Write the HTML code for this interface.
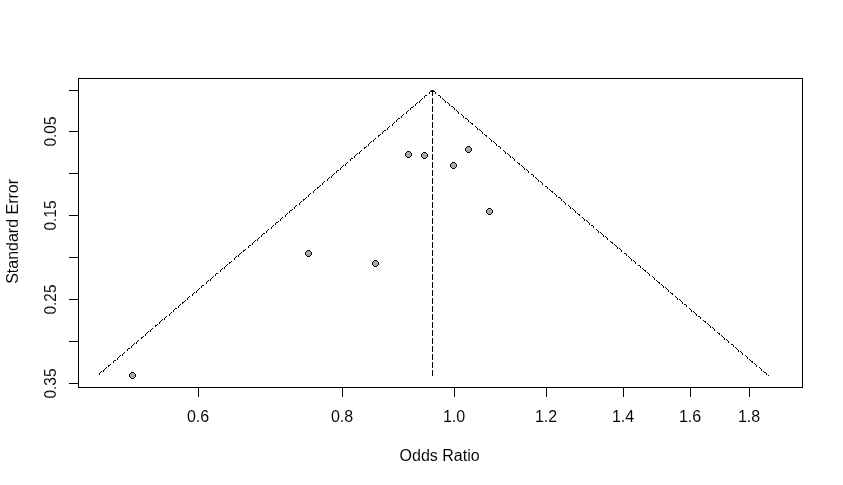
<!DOCTYPE html>
<html><head><meta charset="utf-8"><style>
html,body{margin:0;padding:0;background:#fff;}
svg{display:block;filter:grayscale(1);}
</style></head><body>
<svg width="843" height="485" viewBox="0 0 843 485">
<rect width="843" height="485" fill="#fff"/>
<g shape-rendering="crispEdges">
<path d="M431 90h1v1h-1zM430 91h1v1h-1zM429 92h1v1h-1zM429 93h1v1h-1zM426 95h1v1h-1zM425 95h1v1h-1zM424 96h1v1h-1zM424 97h1v1h-1zM422 98h1v1h-1zM421 99h1v1h-1zM420 100h1v1h-1zM419 101h1v1h-1zM419 102h1v1h-1zM417 102h1v1h-1zM416 103h1v1h-1zM415 104h1v1h-1zM415 105h1v1h-1zM413 106h1v1h-1zM412 107h1v1h-1zM411 107h1v1h-1zM410 108h1v1h-1zM410 109h1v1h-1zM408 110h1v1h-1zM407 111h1v1h-1zM406 112h1v1h-1zM406 113h1v1h-1zM403 114h1v1h-1zM402 115h1v1h-1zM401 116h1v1h-1zM401 117h1v1h-1zM399 118h1v1h-1zM398 118h1v1h-1zM397 119h1v1h-1zM396 120h1v1h-1zM396 121h1v1h-1zM394 122h1v1h-1zM393 123h1v1h-1zM392 124h1v1h-1zM392 125h1v1h-1zM389 126h1v1h-1zM388 127h1v1h-1zM387 128h1v1h-1zM387 129h1v1h-1zM385 130h1v1h-1zM384 130h1v1h-1zM383 131h1v1h-1zM382 132h1v1h-1zM382 133h1v1h-1zM380 134h1v1h-1zM379 135h1v1h-1zM378 135h1v1h-1zM378 136h1v1h-1zM375 138h1v1h-1zM374 139h1v1h-1zM373 140h1v1h-1zM373 141h1v1h-1zM371 141h1v1h-1zM370 142h1v1h-1zM369 143h1v1h-1zM368 144h1v1h-1zM368 145h1v1h-1zM366 146h1v1h-1zM365 147h1v1h-1zM364 147h1v1h-1zM364 148h1v1h-1zM361 150h1v1h-1zM360 151h1v1h-1zM359 152h1v1h-1zM359 153h1v1h-1zM357 153h1v1h-1zM356 154h1v1h-1zM355 155h1v1h-1zM354 156h1v1h-1zM354 157h1v1h-1zM352 158h1v1h-1zM351 158h1v1h-1zM350 159h1v1h-1zM350 160h1v1h-1zM347 162h1v1h-1zM346 163h1v1h-1zM345 164h1v1h-1zM345 165h1v1h-1zM343 165h1v1h-1zM342 166h1v1h-1zM341 167h1v1h-1zM340 168h1v1h-1zM340 169h1v1h-1zM338 170h1v1h-1zM337 170h1v1h-1zM336 171h1v1h-1zM336 172h1v1h-1zM334 173h1v1h-1zM333 174h1v1h-1zM332 175h1v1h-1zM331 176h1v1h-1zM331 177h1v1h-1zM329 177h1v1h-1zM328 178h1v1h-1zM327 179h1v1h-1zM327 180h1v1h-1zM324 181h1v1h-1zM323 182h1v1h-1zM322 183h1v1h-1zM322 184h1v1h-1zM320 185h1v1h-1zM319 186h1v1h-1zM318 187h1v1h-1zM317 187h1v1h-1zM317 188h1v1h-1zM315 189h1v1h-1zM314 190h1v1h-1zM313 191h1v1h-1zM313 192h1v1h-1zM310 193h1v1h-1zM309 194h1v1h-1zM308 195h1v1h-1zM308 196h1v1h-1zM306 197h1v1h-1zM305 198h1v1h-1zM304 199h1v1h-1zM303 199h1v1h-1zM303 200h1v1h-1zM301 201h1v1h-1zM300 202h1v1h-1zM299 203h1v1h-1zM299 204h1v1h-1zM296 205h1v1h-1zM295 206h1v1h-1zM294 207h1v1h-1zM294 208h1v1h-1zM292 209h1v1h-1zM291 210h1v1h-1zM290 210h1v1h-1zM289 211h1v1h-1zM289 212h1v1h-1zM287 213h1v1h-1zM286 214h1v1h-1zM285 215h1v1h-1zM285 216h1v1h-1zM282 217h1v1h-1zM281 218h1v1h-1zM280 219h1v1h-1zM280 220h1v1h-1zM278 221h1v1h-1zM277 222h1v1h-1zM276 222h1v1h-1zM275 223h1v1h-1zM275 224h1v1h-1zM273 225h1v1h-1zM272 226h1v1h-1zM271 227h1v1h-1zM271 228h1v1h-1zM268 229h1v1h-1zM267 230h1v1h-1zM266 231h1v1h-1zM266 232h1v1h-1zM264 233h1v1h-1zM263 233h1v1h-1zM262 234h1v1h-1zM261 235h1v1h-1zM261 236h1v1h-1zM259 237h1v1h-1zM258 238h1v1h-1zM257 239h1v1h-1zM257 240h1v1h-1zM255 240h1v1h-1zM254 241h1v1h-1zM253 242h1v1h-1zM252 243h1v1h-1zM252 244h1v1h-1zM250 245h1v1h-1zM249 245h1v1h-1zM248 246h1v1h-1zM248 247h1v1h-1zM245 249h1v1h-1zM244 250h1v1h-1zM243 250h1v1h-1zM243 251h1v1h-1zM241 252h1v1h-1zM240 253h1v1h-1zM239 254h1v1h-1zM238 255h1v1h-1zM238 256h1v1h-1zM236 256h1v1h-1zM235 257h1v1h-1zM234 258h1v1h-1zM234 259h1v1h-1zM231 261h1v1h-1zM230 262h1v1h-1zM229 262h1v1h-1zM229 263h1v1h-1zM227 264h1v1h-1zM226 265h1v1h-1zM225 266h1v1h-1zM224 267h1v1h-1zM224 268h1v1h-1zM222 268h1v1h-1zM221 269h1v1h-1zM220 270h1v1h-1zM220 271h1v1h-1zM217 273h1v1h-1zM216 273h1v1h-1zM215 274h1v1h-1zM215 275h1v1h-1zM213 276h1v1h-1zM212 277h1v1h-1zM211 278h1v1h-1zM210 279h1v1h-1zM210 280h1v1h-1zM208 280h1v1h-1zM207 281h1v1h-1zM206 282h1v1h-1zM206 283h1v1h-1zM203 285h1v1h-1zM202 285h1v1h-1zM201 286h1v1h-1zM201 287h1v1h-1zM199 288h1v1h-1zM198 289h1v1h-1zM197 290h1v1h-1zM196 291h1v1h-1zM196 292h1v1h-1zM194 292h1v1h-1zM193 293h1v1h-1zM192 294h1v1h-1zM192 295h1v1h-1zM189 296h1v1h-1zM188 297h1v1h-1zM187 298h1v1h-1zM187 299h1v1h-1zM185 300h1v1h-1zM184 301h1v1h-1zM183 302h1v1h-1zM182 302h1v1h-1zM182 303h1v1h-1zM180 304h1v1h-1zM179 305h1v1h-1zM178 306h1v1h-1zM178 307h1v1h-1zM176 308h1v1h-1zM175 308h1v1h-1zM174 309h1v1h-1zM173 310h1v1h-1zM173 311h1v1h-1zM171 312h1v1h-1zM170 313h1v1h-1zM169 314h1v1h-1zM169 315h1v1h-1zM166 316h1v1h-1zM165 317h1v1h-1zM164 318h1v1h-1zM164 319h1v1h-1zM162 319h1v1h-1zM161 320h1v1h-1zM160 321h1v1h-1zM159 322h1v1h-1zM159 323h1v1h-1zM157 324h1v1h-1zM156 325h1v1h-1zM155 325h1v1h-1zM155 326h1v1h-1zM152 328h1v1h-1zM151 329h1v1h-1zM150 330h1v1h-1zM150 331h1v1h-1zM148 331h1v1h-1zM147 332h1v1h-1zM146 333h1v1h-1zM145 334h1v1h-1zM145 335h1v1h-1zM143 336h1v1h-1zM142 337h1v1h-1zM141 337h1v1h-1zM141 338h1v1h-1zM138 340h1v1h-1zM137 341h1v1h-1zM136 342h1v1h-1zM136 343h1v1h-1zM134 343h1v1h-1zM133 344h1v1h-1zM132 345h1v1h-1zM131 346h1v1h-1zM131 347h1v1h-1zM129 348h1v1h-1zM128 348h1v1h-1zM127 349h1v1h-1zM127 350h1v1h-1zM124 352h1v1h-1zM123 353h1v1h-1zM122 354h1v1h-1zM122 355h1v1h-1zM120 355h1v1h-1zM119 356h1v1h-1zM118 357h1v1h-1zM117 358h1v1h-1zM117 359h1v1h-1zM115 360h1v1h-1zM114 360h1v1h-1zM113 361h1v1h-1zM113 362h1v1h-1zM110 364h1v1h-1zM109 365h1v1h-1zM108 365h1v1h-1zM108 366h1v1h-1zM106 367h1v1h-1zM105 368h1v1h-1zM104 369h1v1h-1zM103 370h1v1h-1zM103 371h1v1h-1zM101 371h1v1h-1zM100 372h1v1h-1zM99 373h1v1h-1zM99 374h1v1h-1zM433 90h1v1h-1zM434 91h1v1h-1zM435 92h1v1h-1zM435 93h1v1h-1zM438 95h1v1h-1zM439 95h1v1h-1zM440 96h1v1h-1zM440 97h1v1h-1zM442 98h1v1h-1zM443 99h1v1h-1zM444 100h1v1h-1zM445 101h1v1h-1zM445 102h1v1h-1zM447 102h1v1h-1zM448 103h1v1h-1zM449 104h1v1h-1zM449 105h1v1h-1zM451 106h1v1h-1zM452 106h1v1h-1zM453 107h1v1h-1zM454 108h1v1h-1zM454 109h1v1h-1zM456 110h1v1h-1zM457 111h1v1h-1zM458 112h1v1h-1zM458 113h1v1h-1zM461 114h1v1h-1zM462 115h1v1h-1zM463 116h1v1h-1zM463 117h1v1h-1zM465 118h1v1h-1zM466 118h1v1h-1zM467 119h1v1h-1zM468 120h1v1h-1zM468 121h1v1h-1zM470 122h1v1h-1zM471 123h1v1h-1zM472 123h1v1h-1zM472 124h1v1h-1zM475 126h1v1h-1zM476 127h1v1h-1zM477 128h1v1h-1zM477 129h1v1h-1zM479 129h1v1h-1zM480 130h1v1h-1zM481 131h1v1h-1zM482 132h1v1h-1zM482 133h1v1h-1zM484 134h1v1h-1zM485 135h1v1h-1zM486 135h1v1h-1zM486 136h1v1h-1zM489 138h1v1h-1zM490 139h1v1h-1zM491 140h1v1h-1zM491 141h1v1h-1zM493 141h1v1h-1zM494 142h1v1h-1zM495 143h1v1h-1zM496 144h1v1h-1zM496 145h1v1h-1zM498 146h1v1h-1zM499 146h1v1h-1zM500 147h1v1h-1zM500 148h1v1h-1zM503 150h1v1h-1zM504 151h1v1h-1zM505 152h1v1h-1zM505 153h1v1h-1zM507 153h1v1h-1zM508 154h1v1h-1zM509 155h1v1h-1zM510 156h1v1h-1zM510 157h1v1h-1zM512 157h1v1h-1zM513 158h1v1h-1zM514 159h1v1h-1zM514 160h1v1h-1zM517 162h1v1h-1zM518 163h1v1h-1zM519 163h1v1h-1zM519 164h1v1h-1zM521 165h1v1h-1zM522 166h1v1h-1zM523 167h1v1h-1zM524 168h1v1h-1zM524 169h1v1h-1zM526 169h1v1h-1zM527 170h1v1h-1zM528 171h1v1h-1zM528 172h1v1h-1zM531 174h1v1h-1zM532 174h1v1h-1zM533 175h1v1h-1zM533 176h1v1h-1zM535 177h1v1h-1zM536 178h1v1h-1zM537 179h1v1h-1zM538 180h1v1h-1zM538 181h1v1h-1zM540 181h1v1h-1zM541 182h1v1h-1zM542 183h1v1h-1zM542 184h1v1h-1zM545 186h1v1h-1zM546 186h1v1h-1zM547 187h1v1h-1zM547 188h1v1h-1zM549 189h1v1h-1zM550 190h1v1h-1zM551 191h1v1h-1zM552 191h1v1h-1zM552 192h1v1h-1zM554 193h1v1h-1zM555 194h1v1h-1zM556 195h1v1h-1zM556 196h1v1h-1zM558 197h1v1h-1zM559 197h1v1h-1zM560 198h1v1h-1zM561 199h1v1h-1zM561 200h1v1h-1zM563 201h1v1h-1zM564 202h1v1h-1zM565 203h1v1h-1zM565 204h1v1h-1zM568 205h1v1h-1zM569 206h1v1h-1zM570 207h1v1h-1zM570 208h1v1h-1zM572 208h1v1h-1zM573 209h1v1h-1zM574 210h1v1h-1zM575 211h1v1h-1zM575 212h1v1h-1zM577 213h1v1h-1zM578 214h1v1h-1zM579 214h1v1h-1zM579 215h1v1h-1zM582 217h1v1h-1zM583 218h1v1h-1zM584 219h1v1h-1zM584 220h1v1h-1zM586 220h1v1h-1zM587 221h1v1h-1zM588 222h1v1h-1zM589 223h1v1h-1zM589 224h1v1h-1zM591 225h1v1h-1zM592 225h1v1h-1zM593 226h1v1h-1zM593 227h1v1h-1zM596 229h1v1h-1zM597 230h1v1h-1zM598 231h1v1h-1zM598 232h1v1h-1zM600 232h1v1h-1zM601 233h1v1h-1zM602 234h1v1h-1zM603 235h1v1h-1zM603 236h1v1h-1zM605 236h1v1h-1zM606 237h1v1h-1zM607 238h1v1h-1zM607 239h1v1h-1zM610 241h1v1h-1zM611 242h1v1h-1zM612 242h1v1h-1zM612 243h1v1h-1zM614 244h1v1h-1zM615 245h1v1h-1zM616 246h1v1h-1zM617 247h1v1h-1zM617 248h1v1h-1zM619 248h1v1h-1zM620 249h1v1h-1zM621 250h1v1h-1zM621 251h1v1h-1zM624 253h1v1h-1zM625 253h1v1h-1zM626 254h1v1h-1zM626 255h1v1h-1zM628 256h1v1h-1zM629 257h1v1h-1zM630 258h1v1h-1zM631 259h1v1h-1zM631 260h1v1h-1zM633 260h1v1h-1zM634 261h1v1h-1zM635 262h1v1h-1zM635 263h1v1h-1zM638 265h1v1h-1zM639 265h1v1h-1zM640 266h1v1h-1zM640 267h1v1h-1zM642 268h1v1h-1zM643 269h1v1h-1zM644 270h1v1h-1zM645 270h1v1h-1zM645 271h1v1h-1zM647 272h1v1h-1zM648 273h1v1h-1zM649 274h1v1h-1zM649 275h1v1h-1zM652 276h1v1h-1zM653 277h1v1h-1zM654 278h1v1h-1zM654 279h1v1h-1zM656 280h1v1h-1zM657 281h1v1h-1zM658 282h1v1h-1zM659 282h1v1h-1zM659 283h1v1h-1zM661 284h1v1h-1zM662 285h1v1h-1zM663 286h1v1h-1zM663 287h1v1h-1zM665 287h1v1h-1zM666 288h1v1h-1zM667 289h1v1h-1zM668 290h1v1h-1zM668 291h1v1h-1zM670 292h1v1h-1zM671 293h1v1h-1zM672 293h1v1h-1zM672 294h1v1h-1zM675 296h1v1h-1zM676 297h1v1h-1zM677 298h1v1h-1zM677 299h1v1h-1zM679 299h1v1h-1zM680 300h1v1h-1zM681 301h1v1h-1zM682 302h1v1h-1zM682 303h1v1h-1zM684 304h1v1h-1zM685 304h1v1h-1zM686 305h1v1h-1zM686 306h1v1h-1zM689 308h1v1h-1zM690 309h1v1h-1zM691 310h1v1h-1zM691 311h1v1h-1zM693 311h1v1h-1zM694 312h1v1h-1zM695 313h1v1h-1zM696 314h1v1h-1zM696 315h1v1h-1zM698 316h1v1h-1zM699 316h1v1h-1zM700 317h1v1h-1zM700 318h1v1h-1zM703 320h1v1h-1zM704 321h1v1h-1zM705 321h1v1h-1zM705 322h1v1h-1zM707 323h1v1h-1zM708 324h1v1h-1zM709 325h1v1h-1zM710 326h1v1h-1zM710 327h1v1h-1zM712 327h1v1h-1zM713 328h1v1h-1zM714 329h1v1h-1zM714 330h1v1h-1zM717 332h1v1h-1zM718 333h1v1h-1zM719 333h1v1h-1zM719 334h1v1h-1zM721 335h1v1h-1zM722 336h1v1h-1zM723 337h1v1h-1zM724 338h1v1h-1zM724 339h1v1h-1zM726 339h1v1h-1zM727 340h1v1h-1zM728 341h1v1h-1zM728 342h1v1h-1zM731 344h1v1h-1zM732 344h1v1h-1zM733 345h1v1h-1zM733 346h1v1h-1zM735 347h1v1h-1zM736 348h1v1h-1zM737 349h1v1h-1zM738 350h1v1h-1zM738 351h1v1h-1zM740 351h1v1h-1zM741 352h1v1h-1zM742 353h1v1h-1zM742 354h1v1h-1zM745 355h1v1h-1zM746 356h1v1h-1zM747 357h1v1h-1zM747 358h1v1h-1zM749 359h1v1h-1zM750 360h1v1h-1zM751 361h1v1h-1zM752 361h1v1h-1zM752 362h1v1h-1zM754 363h1v1h-1zM755 364h1v1h-1zM756 365h1v1h-1zM756 366h1v1h-1zM759 367h1v1h-1zM760 368h1v1h-1zM761 369h1v1h-1zM761 370h1v1h-1zM763 371h1v1h-1zM764 372h1v1h-1zM765 372h1v1h-1zM766 373h1v1h-1zM766 374h1v1h-1zM768 375h1v1h-1zM431 91h1v1h-1zM433 91h1v1h-1z" fill="#000"/>
<line x1="432.5" y1="90" x2="432.5" y2="376" stroke="#000" stroke-width="1" stroke-dasharray="6 2"/>
</g>
<g shape-rendering="crispEdges">
<rect x="78" y="78" width="725" height="1" fill="#000"/>
<rect x="78" y="387" width="725" height="1" fill="#000"/>
<rect x="78" y="78" width="1" height="310" fill="#000"/>
<rect x="802" y="78" width="1" height="310" fill="#000"/>
<rect x="69" y="90" width="9" height="1" fill="#000"/>
<rect x="69" y="131" width="9" height="1" fill="#000"/>
<rect x="69" y="173" width="9" height="1" fill="#000"/>
<rect x="69" y="215" width="9" height="1" fill="#000"/>
<rect x="69" y="257" width="9" height="1" fill="#000"/>
<rect x="69" y="299" width="9" height="1" fill="#000"/>
<rect x="69" y="341" width="9" height="1" fill="#000"/>
<rect x="69" y="383" width="9" height="1" fill="#000"/>
<rect x="198" y="388" width="1" height="9" fill="#000"/>
<rect x="342" y="388" width="1" height="9" fill="#000"/>
<rect x="454" y="388" width="1" height="9" fill="#000"/>
<rect x="546" y="388" width="1" height="9" fill="#000"/>
<rect x="623" y="388" width="1" height="9" fill="#000"/>
<rect x="690" y="388" width="1" height="9" fill="#000"/>
<rect x="749" y="388" width="1" height="9" fill="#000"/>
<rect x="407" y="152" width="3" height="1" fill="#a9a9a9"/>
<rect x="406" y="153" width="5" height="3" fill="#a9a9a9"/>
<rect x="407" y="156" width="3" height="1" fill="#a9a9a9"/>
<rect x="407" y="151" width="3" height="1" fill="#000"/>
<rect x="407" y="157" width="3" height="1" fill="#000"/>
<rect x="405" y="153" width="1" height="3" fill="#000"/>
<rect x="411" y="153" width="1" height="3" fill="#000"/>
<rect x="406" y="152" width="1" height="1" fill="#000"/>
<rect x="410" y="152" width="1" height="1" fill="#000"/>
<rect x="406" y="156" width="1" height="1" fill="#000"/>
<rect x="410" y="156" width="1" height="1" fill="#000"/>
<rect x="423" y="153" width="3" height="1" fill="#a9a9a9"/>
<rect x="422" y="154" width="5" height="3" fill="#a9a9a9"/>
<rect x="423" y="157" width="3" height="1" fill="#a9a9a9"/>
<rect x="423" y="152" width="3" height="1" fill="#000"/>
<rect x="423" y="158" width="3" height="1" fill="#000"/>
<rect x="421" y="154" width="1" height="3" fill="#000"/>
<rect x="427" y="154" width="1" height="3" fill="#000"/>
<rect x="422" y="153" width="1" height="1" fill="#000"/>
<rect x="426" y="153" width="1" height="1" fill="#000"/>
<rect x="422" y="157" width="1" height="1" fill="#000"/>
<rect x="426" y="157" width="1" height="1" fill="#000"/>
<rect x="452" y="163" width="3" height="1" fill="#a9a9a9"/>
<rect x="451" y="164" width="5" height="3" fill="#a9a9a9"/>
<rect x="452" y="167" width="3" height="1" fill="#a9a9a9"/>
<rect x="452" y="162" width="3" height="1" fill="#000"/>
<rect x="452" y="168" width="3" height="1" fill="#000"/>
<rect x="450" y="164" width="1" height="3" fill="#000"/>
<rect x="456" y="164" width="1" height="3" fill="#000"/>
<rect x="451" y="163" width="1" height="1" fill="#000"/>
<rect x="455" y="163" width="1" height="1" fill="#000"/>
<rect x="451" y="167" width="1" height="1" fill="#000"/>
<rect x="455" y="167" width="1" height="1" fill="#000"/>
<rect x="467" y="147" width="3" height="1" fill="#a9a9a9"/>
<rect x="466" y="148" width="5" height="3" fill="#a9a9a9"/>
<rect x="467" y="151" width="3" height="1" fill="#a9a9a9"/>
<rect x="467" y="146" width="3" height="1" fill="#000"/>
<rect x="467" y="152" width="3" height="1" fill="#000"/>
<rect x="465" y="148" width="1" height="3" fill="#000"/>
<rect x="471" y="148" width="1" height="3" fill="#000"/>
<rect x="466" y="147" width="1" height="1" fill="#000"/>
<rect x="470" y="147" width="1" height="1" fill="#000"/>
<rect x="466" y="151" width="1" height="1" fill="#000"/>
<rect x="470" y="151" width="1" height="1" fill="#000"/>
<rect x="488" y="209" width="3" height="1" fill="#a9a9a9"/>
<rect x="487" y="210" width="5" height="3" fill="#a9a9a9"/>
<rect x="488" y="213" width="3" height="1" fill="#a9a9a9"/>
<rect x="488" y="208" width="3" height="1" fill="#000"/>
<rect x="488" y="214" width="3" height="1" fill="#000"/>
<rect x="486" y="210" width="1" height="3" fill="#000"/>
<rect x="492" y="210" width="1" height="3" fill="#000"/>
<rect x="487" y="209" width="1" height="1" fill="#000"/>
<rect x="491" y="209" width="1" height="1" fill="#000"/>
<rect x="487" y="213" width="1" height="1" fill="#000"/>
<rect x="491" y="213" width="1" height="1" fill="#000"/>
<rect x="307" y="251" width="3" height="1" fill="#a9a9a9"/>
<rect x="306" y="252" width="5" height="3" fill="#a9a9a9"/>
<rect x="307" y="255" width="3" height="1" fill="#a9a9a9"/>
<rect x="307" y="250" width="3" height="1" fill="#000"/>
<rect x="307" y="256" width="3" height="1" fill="#000"/>
<rect x="305" y="252" width="1" height="3" fill="#000"/>
<rect x="311" y="252" width="1" height="3" fill="#000"/>
<rect x="306" y="251" width="1" height="1" fill="#000"/>
<rect x="310" y="251" width="1" height="1" fill="#000"/>
<rect x="306" y="255" width="1" height="1" fill="#000"/>
<rect x="310" y="255" width="1" height="1" fill="#000"/>
<rect x="374" y="261" width="3" height="1" fill="#a9a9a9"/>
<rect x="373" y="262" width="5" height="3" fill="#a9a9a9"/>
<rect x="374" y="265" width="3" height="1" fill="#a9a9a9"/>
<rect x="374" y="260" width="3" height="1" fill="#000"/>
<rect x="374" y="266" width="3" height="1" fill="#000"/>
<rect x="372" y="262" width="1" height="3" fill="#000"/>
<rect x="378" y="262" width="1" height="3" fill="#000"/>
<rect x="373" y="261" width="1" height="1" fill="#000"/>
<rect x="377" y="261" width="1" height="1" fill="#000"/>
<rect x="373" y="265" width="1" height="1" fill="#000"/>
<rect x="377" y="265" width="1" height="1" fill="#000"/>
<rect x="131" y="373" width="3" height="1" fill="#a9a9a9"/>
<rect x="130" y="374" width="5" height="3" fill="#a9a9a9"/>
<rect x="131" y="377" width="3" height="1" fill="#a9a9a9"/>
<rect x="131" y="372" width="3" height="1" fill="#000"/>
<rect x="131" y="378" width="3" height="1" fill="#000"/>
<rect x="129" y="374" width="1" height="3" fill="#000"/>
<rect x="135" y="374" width="1" height="3" fill="#000"/>
<rect x="130" y="373" width="1" height="1" fill="#000"/>
<rect x="134" y="373" width="1" height="1" fill="#000"/>
<rect x="130" y="377" width="1" height="1" fill="#000"/>
<rect x="134" y="377" width="1" height="1" fill="#000"/>
</g>
<g fill="#000" stroke="#fff" stroke-width="0.05">
<text x="198.1" y="422" text-anchor="middle" font-family="Liberation Sans, sans-serif" font-size="16">0.6</text>
<text x="342.1" y="422" text-anchor="middle" font-family="Liberation Sans, sans-serif" font-size="16">0.8</text>
<text x="454.1" y="422" text-anchor="middle" font-family="Liberation Sans, sans-serif" font-size="16">1.0</text>
<text x="546.1" y="422" text-anchor="middle" font-family="Liberation Sans, sans-serif" font-size="16">1.2</text>
<text x="623.1" y="422" text-anchor="middle" font-family="Liberation Sans, sans-serif" font-size="16">1.4</text>
<text x="690.1" y="422" text-anchor="middle" font-family="Liberation Sans, sans-serif" font-size="16">1.6</text>
<text x="749.1" y="422" text-anchor="middle" font-family="Liberation Sans, sans-serif" font-size="16">1.8</text>
<text transform="translate(56,131.5) rotate(-90) scale(0.965,1)" text-anchor="middle" font-family="Liberation Sans, sans-serif" font-size="16">0.05</text>
<text transform="translate(56,215.5) rotate(-90) scale(0.965,1)" text-anchor="middle" font-family="Liberation Sans, sans-serif" font-size="16">0.15</text>
<text transform="translate(56,299.5) rotate(-90) scale(0.965,1)" text-anchor="middle" font-family="Liberation Sans, sans-serif" font-size="16">0.25</text>
<text transform="translate(56,383.5) rotate(-90) scale(0.965,1)" text-anchor="middle" font-family="Liberation Sans, sans-serif" font-size="16">0.35</text>
<text x="439.6" y="461" text-anchor="middle" font-family="Liberation Sans, sans-serif" font-size="16">Odds Ratio</text>
<text transform="translate(18,231.4) rotate(-90)" text-anchor="middle" font-family="Liberation Sans, sans-serif" font-size="16">Standard Error</text>
</g>
</svg>
</body></html>
